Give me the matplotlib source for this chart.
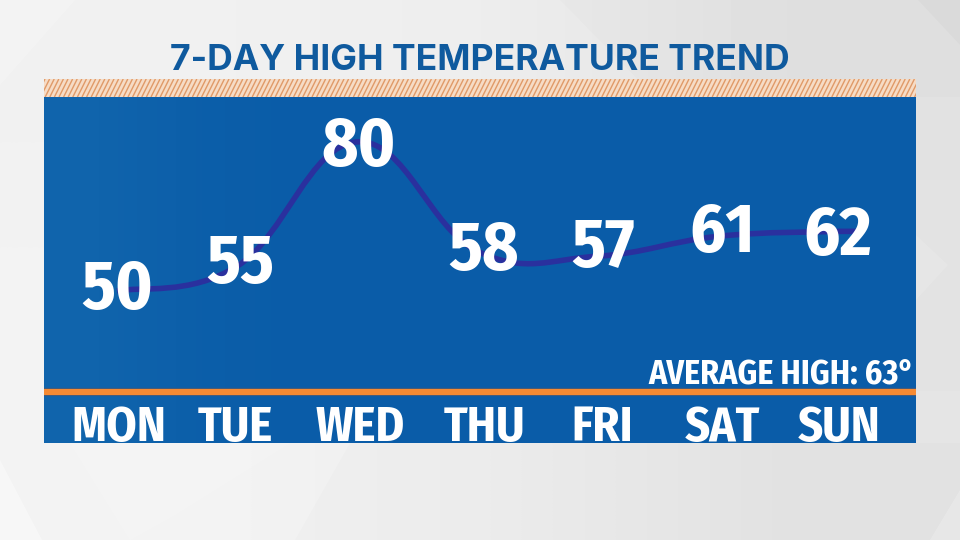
import matplotlib
matplotlib.use('Agg')
import numpy as np
import matplotlib.pyplot as plt
from matplotlib.colors import LinearSegmentedColormap
from matplotlib.path import Path
from matplotlib.patches import PathPatch, Polygon, Rectangle

# Chart data
days = ['MON', 'TUE', 'WED', 'THU', 'FRI', 'SAT', 'SUN']
highs = [50, 55, 80, 58, 57, 61, 62]
title = '7-DAY HIGH TEMPERATURE TREND'
average_label = 'AVERAGE HIGH: 63°'

W, H = 960, 540
fig = plt.figure(figsize=(W / 100, H / 100), dpi=100)

# Background in pixel coordinates
bg = fig.add_axes([0, 0, 1, 1])
bg.set_xlim(0, W)
bg.set_ylim(H, 0)
bg.axis('off')
bg.imshow(np.array([[0.945, 0.93, 0.885], [0.955, 0.935, 0.895]]), extent=(0, W, H, 0), cmap='gray',
          vmin=0, vmax=1, interpolation='bilinear', aspect='auto')
bg.add_patch(Polygon([[0, 85], [75, 0], [0, 0]], color='white', alpha=0.2, lw=0))
bg.add_patch(Polygon([[560, 0], [960, 0], [960, 97], [655, 97]], color='black', alpha=0.012, lw=0))
bg.add_patch(Polygon([[918, 0], [960, 0], [960, 45]], color='black', alpha=0.02, lw=0))
bg.add_patch(Polygon([[0, 460], [0, 540], [42, 540]], color='white', alpha=0.4, lw=0))
bg.add_patch(Polygon([[70, 443], [290, 443], [175, 515], [130, 540]], color='white', alpha=0.15, lw=0))
bg.add_patch(Polygon([[350, 443], [960, 443], [960, 540], [295, 540]], color='black', alpha=0.012, lw=0))
bg.add_patch(Polygon([[960, 490], [960, 540], [930, 540]], color='white', alpha=0.2, lw=0))
bg.add_patch(Polygon([[916, 235], [948, 265], [916, 300]], color='white', alpha=0.12, lw=0))

# Hatched strip above the panel
strip = Rectangle((44, 79), 872, 18, facecolor='#f6dcc6', edgecolor='none')
bg.add_patch(strip)
for x0 in np.arange(36, 920, 4.6):
    stripe, = bg.plot([x0, x0 + 9], [97, 79], color='#e09a68', lw=1.0, solid_capstyle='butt')
    stripe.set_clip_path(strip)

title_font = ['Inter', 'DejaVu Sans']
label_font = ['Fira Sans Condensed', 'Open Sans', 'DejaVu Sans']
narrow_font = ['Fira Sans Condensed', 'Roboto', 'DejaVu Sans']

fig.text(480 / W, 1 - 70 / H, title, ha='center', va='baseline', fontsize=25.6,
         fontweight='bold', color='#0f5a9e', family=title_font)

# Blue panel, its axes scaled in days and degrees
left, right, top, bottom = 44, 916, 97, 443
deg_px = 4.97
ax = fig.add_axes([left / W, 1 - bottom / H, (right - left) / W, (bottom - top) / H])
panel_cmap = LinearSegmentedColormap.from_list('panel', ['#1064ac', '#0a5ca8'])
ax.imshow(np.array([[0, 0.7, 1, 1, 1, 1, 1, 1]]), extent=(0, 1, 0, 1), transform=ax.transAxes,
          cmap=panel_cmap, interpolation='bilinear', aspect='auto', zorder=0)
ax.set_xlim(-0.6075, 6.649)
ax.set_ylim(50 - (443 - 291) / deg_px, 50 + (291 - 97) / deg_px)
ax.set_xticks([])
ax.set_yticks([])
for s in ax.spines.values():
    s.set_visible(False)

# Smooth line through the daily highs (Catmull-Rom as Bezier segments)
x = np.arange(len(highs), dtype=float)
y = np.array(highs, dtype=float)
px = np.concatenate(([x[0]], x, [x[-1]]))
py = np.concatenate(([y[0]], y, [y[-1]]))
verts = [(x[0], y[0])]
codes = [Path.MOVETO]
for i in range(1, len(px) - 2):
    c1 = (px[i] + (px[i + 1] - px[i - 1]) / 5, py[i] + (py[i + 1] - py[i - 1]) / 5)
    c2 = (px[i + 1] - (px[i + 2] - px[i]) / 5, py[i + 1] - (py[i + 2] - py[i]) / 5)
    verts += [c1, c2, (px[i + 1], py[i + 1])]
    codes += [Path.CURVE4] * 3
# short tail past the last day, as the line runs on behind the 62
verts.append((x[-1] + 0.16, y[-1]))
codes.append(Path.LINETO)
ax.add_patch(PathPatch(Path(verts, codes), facecolor='none', edgecolor='#2a309e', lw=4.0,
                       capstyle='butt', zorder=2))

# Numbers sit a little off the line, each nudged by hand (pixels)
nudge_x = [0, 3, 1, 6, 5, 4, 0]
nudge_y = [-18, -17, -24, -19, -11, -16, -24]
for i, v in enumerate(highs):
    ax.annotate(str(v), (i, v), xytext=(nudge_x[i], nudge_y[i]), textcoords='offset pixels', ha='center',
                va='baseline', fontsize=50, fontweight='bold', color='white', family=label_font, zorder=3)

# Orange rule and the day row
rule_y = 50 - (392 - 291) / deg_px
ax.axhline(rule_y, color='#3b5a80', lw=6.0, zorder=2)
ax.axhline(rule_y, color='#f58a33', lw=4.4, zorder=2)
day_y = 50 - (441 - 291) / deg_px
day_nudge = [2, -2, 3, 7, 5, 5, 1]
for i, d in enumerate(days):
    ax.annotate(d, (i, day_y), xytext=(day_nudge[i], 0), textcoords='offset pixels', ha='center',
                va='baseline', fontsize=35, fontweight='bold', color='white', family=narrow_font, zorder=3)
ax.annotate(average_label, (1, 50 - (384 - 291) / deg_px), xycoords=ax.get_yaxis_transform(),
            xytext=(-2, 0), textcoords='offset pixels', ha='right', va='baseline', fontsize=24.3,
            fontweight='bold', color='white', family=narrow_font, zorder=3)

fig.savefig('out.png', dpi=100)
